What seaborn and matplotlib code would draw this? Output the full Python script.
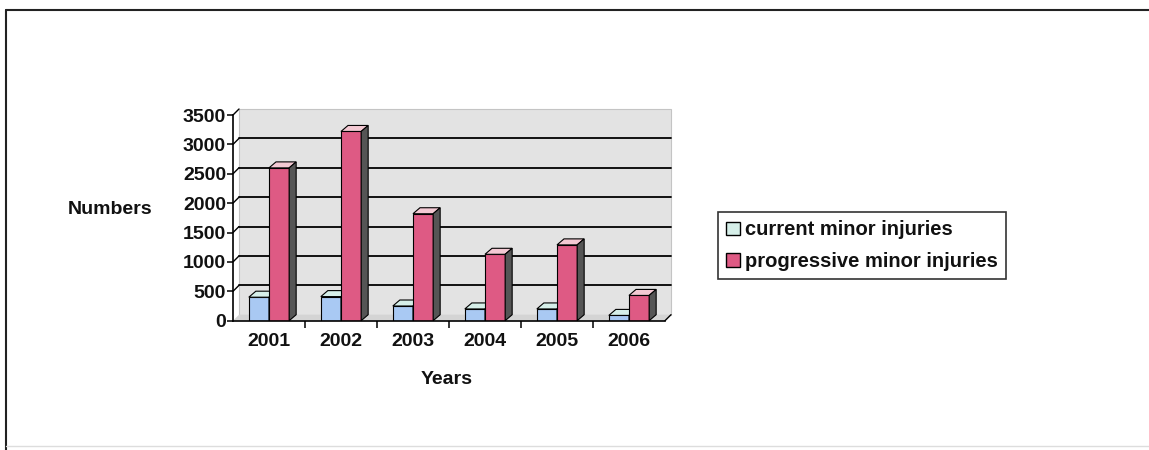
import matplotlib
matplotlib.use("Agg")
import matplotlib.pyplot as plt
from matplotlib.patches import Polygon, Patch, Rectangle
from matplotlib.lines import Line2D
import seaborn as sns
import pandas as pd

# Data
years = ["2001", "2002", "2003", "2004", "2005", "2006"]
current_minor = [400, 410, 250, 200, 200, 90]
progressive_minor = [2600, 3220, 1820, 1130, 1290, 430]
series_names = ["current minor injuries", "progressive minor injuries"]
y_ticks = [0, 500, 1000, 1500, 2000, 2500, 3000, 3500]

front_colors = ["#a9c9f3", "#de5a84"]
top_colors = ["#d6efe9", "#f3c9d3"]
side_colors = ["#8fa8c8", "#555555"]

df = pd.DataFrame({
    "Years": years * 2,
    "value": current_minor + progressive_minor,
    "series": [series_names[0]] * len(years) + [series_names[1]] * len(years),
})

sns.set_theme(style="white")
plt.rcParams["font.family"] = ["Liberation Sans", "DejaVu Sans"]
plt.rcParams["font.weight"] = "bold"

W, H = 1149, 450
fig = plt.figure(figsize=(W / 100, H / 100), dpi=100)
fig.patch.set_facecolor("white")

# axes box in pixel terms
x0, x1 = 233, 665
yb, yt = 320.7, 115
ax = fig.add_axes([x0 / W, 1 - yb / H, (x1 - x0) / W, (yb - yt) / H])
ax.set_facecolor("none")

ymax = 3500
ax.set_xlim(-0.5, len(years) - 0.5)
ax.set_ylim(0, ymax)

px_x = (x1 - x0) / len(years)        # pixels per category unit
px_y = (yb - yt) / ymax              # pixels per value unit
wall_dx, wall_dy = 6 / px_x, 6 / px_y
bar_dx, bar_dy = 7 / px_x, 6 / px_y

sns.barplot(data=df, x="Years", y="value", hue="series",
            palette=front_colors, width=0.56, gap=0.0,
            edgecolor="black", linewidth=0.8, saturation=1,
            ax=ax, legend=False)

# back wall and floor
xl, xr = -0.5, len(years) - 0.5
wall = Rectangle((xl + wall_dx, wall_dy), xr - xl, ymax, facecolor="#e3e3e3",
                 edgecolor="#c4c4c4", linewidth=0.8, zorder=0.2, clip_on=False)
ax.add_patch(wall)
floor = Polygon([(xl, 0), (xr, 0), (xr + wall_dx, wall_dy), (xl + wall_dx, wall_dy)],
                closed=True, facecolor="#d4d4d4", edgecolor="none", zorder=0.3,
                clip_on=False)
ax.add_patch(floor)

# gridlines on the back wall, joined to the axis by short slanted strokes
for v in y_ticks[1:]:
    if v < ymax:
        ax.plot([xl + wall_dx, xr + wall_dx], [v + wall_dy, v + wall_dy],
                color="black", lw=1.3, zorder=0.5, clip_on=False)
    ax.plot([xl, xl + wall_dx], [v, v + wall_dy], color="black", lw=1.0,
            zorder=0.5, clip_on=False)
ax.plot([xr, xr + wall_dx], [0, wall_dy], color="black", lw=1.0, zorder=0.5,
        clip_on=False)

# 3D faces for every bar
for level, container in enumerate(ax.containers):
    for bar in container:
        bx, bw, bh = bar.get_x(), bar.get_width(), bar.get_height()
        z = 2 + level
        bar.set_zorder(z)
        top = Polygon([(bx, bh), (bx + bw, bh), (bx + bw + bar_dx, bh + bar_dy),
                       (bx + bar_dx, bh + bar_dy)], closed=True,
                      facecolor=top_colors[level], edgecolor="black", lw=0.8,
                      zorder=z + 0.5, clip_on=False)
        side = Polygon([(bx + bw, 0), (bx + bw, bh), (bx + bw + bar_dx, bh + bar_dy),
                        (bx + bw + bar_dx, bar_dy)], closed=True,
                       facecolor=side_colors[level], edgecolor="black", lw=0.8,
                       zorder=z + 0.5, clip_on=False)
        ax.add_patch(top)
        ax.add_patch(side)

# axes styling
for s in ["top", "right"]:
    ax.spines[s].set_visible(False)
for s in ["left", "bottom"]:
    ax.spines[s].set_color("black")
    ax.spines[s].set_linewidth(1.2)
    ax.spines[s].set_zorder(6)

ax.set_yticks(y_ticks)
ax.set_yticklabels([str(v) for v in y_ticks])
ax.tick_params(axis="y", direction="out", length=4, width=1.1, color="black",
               pad=1, labelsize=14, left=True)
ax.set_xticks(range(len(years)))
ax.set_xticklabels(years)
ax.tick_params(axis="x", which="major", length=0, pad=9, labelsize=14)
ax.set_xticks([i + 0.5 for i in range(len(years) - 1)], minor=True)
ax.tick_params(axis="x", which="minor", direction="out", length=5, width=1.1,
               color="black", bottom=True)
for lab in ax.get_xticklabels() + ax.get_yticklabels():
    lab.set_fontweight("bold")
    lab.set_color("#111111")

ax.set_xlabel("Years", fontsize=14, fontweight="bold", color="#111111", va="center")
ax.xaxis.set_label_coords((447 - x0) / (x1 - x0), (yb - 379) / (yb - yt))
ax.set_ylabel("Numbers", fontsize=14, fontweight="bold", color="#111111",
              rotation=0, ha="center", va="center")
ax.yaxis.set_label_coords((110 - x0) / (x1 - x0), (yb - 210) / (yb - yt))

# legend
handles = [Patch(facecolor=top_colors[0], edgecolor="black", linewidth=1.0),
           Patch(facecolor=front_colors[1], edgecolor="black", linewidth=1.0)]
leg = fig.legend(handles, series_names, loc="upper left",
                 bbox_to_anchor=(718 / W, 1 - 212 / H), bbox_transform=fig.transFigure,
                 fontsize=14.5, frameon=True, fancybox=False, handlelength=0.65,
                 handleheight=0.65, handletextpad=0.25, labelspacing=0.62,
                 borderpad=0.42, borderaxespad=0)
leg.get_frame().set_edgecolor("black")
leg.get_frame().set_linewidth(1.2)
for t in leg.get_texts():
    t.set_fontweight("bold")
    t.set_color("#111111")

# outer chart frame
fig.add_artist(Line2D([6 / W, 1], [1 - 10 / H, 1 - 10 / H], color="#222222", lw=1.5,
                      transform=fig.transFigure))
fig.add_artist(Line2D([6 / W, 6 / W], [0, 1 - 10 / H], color="#222222", lw=1.5,
                      transform=fig.transFigure))
fig.add_artist(Line2D([6 / W, 1], [4 / H, 4 / H], color="#dddddd", lw=1.0,
                      transform=fig.transFigure))

fig.savefig("out.png", dpi=100)
